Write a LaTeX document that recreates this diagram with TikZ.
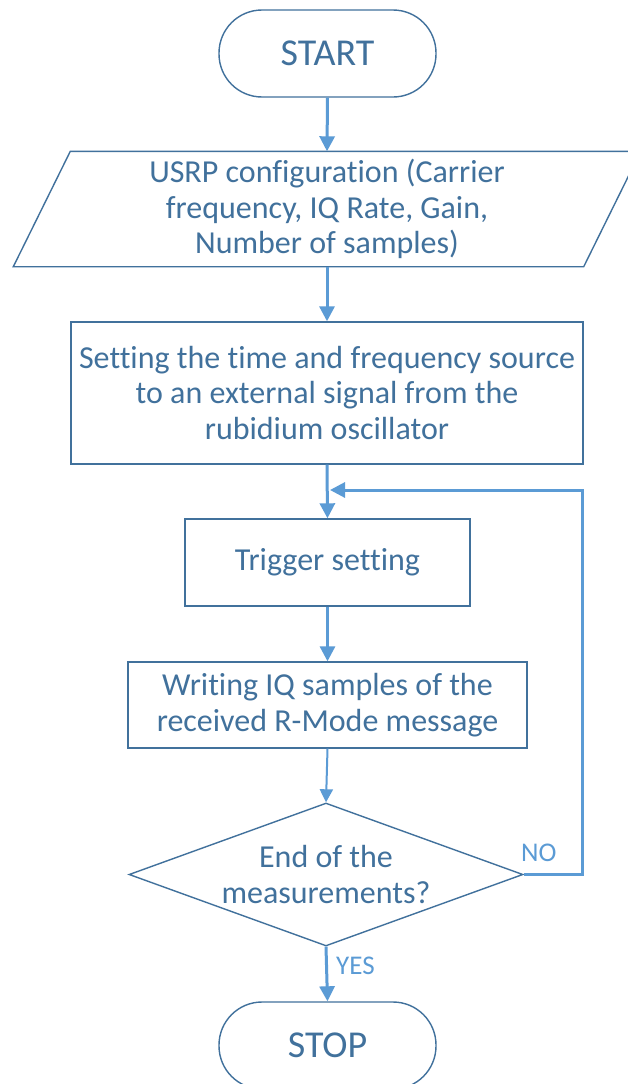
\documentclass[tikz,border=0pt]{standalone}
\usepackage{fontspec}
\setmainfont{Carlito}[Ligatures=NoCommon]
\usetikzlibrary{shapes.geometric,arrows.meta}
\definecolor{edge}{HTML}{41719C}
\definecolor{flow}{HTML}{5B9BD5}
\begin{document}
\begin{tikzpicture}[x=1pt,y=-1pt,
  base/.style={draw=edge,line width=1.4pt,text=edge,align=center,inner sep=0pt,
    font=\fontsize{32}{35.5}\selectfont},
  term/.style={base,rectangle,rounded corners=43pt,minimum width=217pt,minimum height=87pt,
    font=\fontsize{38}{42}\selectfont},
  procbox/.style={base,rectangle},
  decide/.style={base,diamond,aspect=2.75},
  arr/.style={draw=flow,line width=3pt,-{Triangle[length=15pt,width=15pt]}},
  thinarr/.style={draw=flow,line width=2pt,-{Triangle[length=13pt,width=13pt]}},
  lbl/.style={text=flow,font=\fontsize{27}{30}\selectfont,inner sep=0pt,anchor=west}]
\useasboundingbox (0,0) rectangle (627,1084);
\fill[white] (0,0) rectangle (627,1084);

% terminals and steps
\node[term] (start) at (327.5,53.5) {START};
\node[base,draw=none,minimum width=569pt,minimum height=114pt] (cfg) at (327,209)
  {USRP configuration (Carrier\\frequency, IQ Rate, Gain,\\Number of samples)};
\draw[edge,line width=1.4pt]
  ([xshift=28.5pt]cfg.north west) -- ([xshift=28.5pt]cfg.north east)
  -- ([xshift=-28.5pt]cfg.south east) -- ([xshift=-28.5pt]cfg.south west) -- cycle;
\node[procbox,minimum width=512pt,minimum height=142pt] (src) at (327,393)
  {Setting the time and frequency source\\to an external signal from the\\rubidium oscillator};
\node[procbox,minimum width=285pt,minimum height=87pt] (trig) at (327.5,562.5) {Trigger setting};
\node[procbox,minimum width=399pt,minimum height=86pt] (wr) at (327.5,705)
  {Writing IQ samples of the\\received R-Mode message};
\node[decide,minimum width=394pt,minimum height=143pt] (dec) at (326,874.5)
  {End of the\\measurements?};
\node[term] (stop) at (327.5,1045.5) {STOP};

% connectors
\draw[arr] (start.south) -- (cfg.north);
\draw[arr] (cfg.south) -- (src.north);
\draw[arr] (src.south) -- (trig.north);
\draw[arr] (trig.south) -- (wr.north);
\draw[thinarr] (wr.south) -- (dec.north);
\draw[arr] (dec.south) -- (stop.north);
\coordinate (back) at (330,490);
\draw[arr] (dec.east) -- (582,874.5) -- (582,490) -- (back);

% branch labels
\node[lbl] (no) at (521,853) {NO};
\node[lbl] (yes) at (336,966) {YES};
\end{tikzpicture}
\end{document}
